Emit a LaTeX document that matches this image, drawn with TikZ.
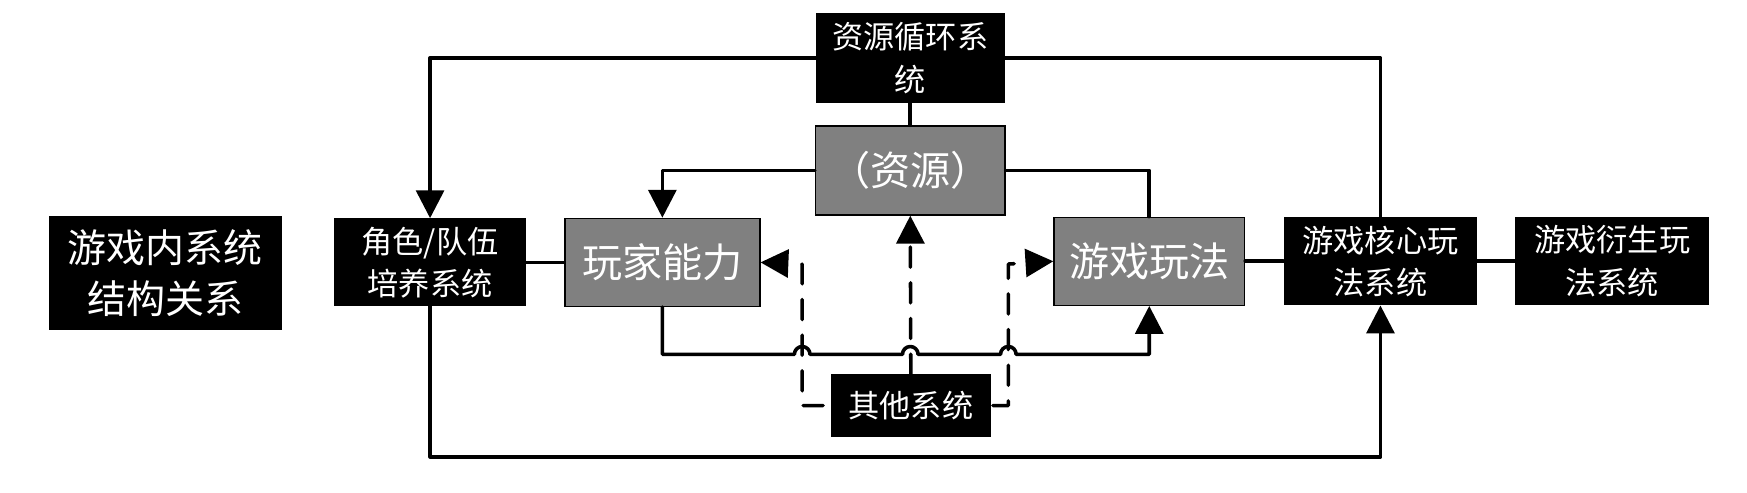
\documentclass[tikz,border=0pt]{standalone}
\usepackage{fontspec}
\setmainfont{Noto Sans CJK SC}
\usetikzlibrary{arrows.meta}
\begin{document}
\begin{tikzpicture}[x=1pt,y=-1pt,
  blk/.style={draw=none,fill=black,text=white,inner sep=0pt,align=center,
    font=\fontsize{28}{38}\selectfont},
  gry/.style={draw=black,line width=1.2pt,fill=black!50,text=white,inner sep=0pt,align=center,
    font=\fontsize{36}{40}\selectfont},
  ln/.style={line width=3.2pt,line cap=round,line join=round},
  arr/.style={-{Triangle[length=25pt,width=25pt]}},
  dsh/.style={dash pattern=on 18pt off 14pt}
]
\useasboundingbox (0,0) rectangle (1568,442);
% nodes
\node[blk,minimum width=209pt,minimum height=102pt,font=\fontsize{35}{46}\selectfont] (title) at (148.5,245) {游戏内系统\\结构关系};
\node[blk,minimum width=172pt,minimum height=79pt] (role) at (386,235.5) {角色/队伍\\培养系统};
\node[gry,minimum width=175pt,minimum height=79pt] (abil) at (594.5,235.5) {玩家能力};
\node[gry,minimum width=170pt,minimum height=80pt] (res) at (817,153) {（资源）};
\node[blk,minimum width=170pt,minimum height=80pt] (cyc) at (817,52) {资源循环系\\统};
\node[gry,minimum width=171pt,minimum height=79pt] (play) at (1031.5,234.5) {游戏玩法};
\node[blk,minimum width=174pt,minimum height=79pt] (core) at (1239,234.5) {游戏核心玩\\法系统};
\node[blk,minimum width=174pt,minimum height=79pt] (der) at (1447,234.5) {游戏衍生玩\\法系统};
\node[blk,minimum width=143pt,minimum height=56pt] (oth) at (817.5,364) {其他系统};
\coordinate (bot) at (817,410);
\coordinate (al) at (720,237);
\coordinate (ar) at (905,237);
% solid connectors
\draw[ln,arr] (cyc.west) -| (role.north);
\draw[ln] (cyc.east) -| (core.north);
\draw[ln,arr] (role.south) |- (bot) -| (core.south);
\draw[ln] (role.east) -- (abil.west);
\draw[ln] (cyc.south) -- (res.north);
\draw[ln,arr] (res.west) -| (abil.north);
\draw[ln] (res.east) -| (play.north);
\draw[ln] (play.east) -- (core.west);
\draw[ln] (core.east) -- (der.west);
\draw[ln,arr] (abil.south) |- (713,318) arc[start angle=180,end angle=0,radius=7pt]
  -- (810,318) arc[start angle=180,end angle=0,radius=7pt]
  -- (898,318) arc[start angle=180,end angle=0,radius=7pt]
  -| (play.south);
% dashed connectors
\draw[ln,dsh,arr] (oth.north) -- (res.south);
\draw[ln,dsh,dash phase=25pt,arr] (oth.west) -| (al) -- (abil.east);
\draw[ln,dsh,dash phase=30pt,arr] (oth.east) -| (ar) -- (play.west);
\end{tikzpicture}
\end{document}
